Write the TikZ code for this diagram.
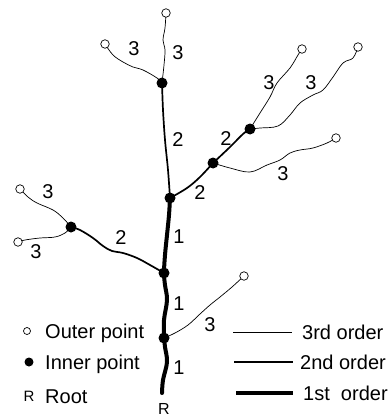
\documentclass[tikz,border=0pt]{standalone}
\usepackage{fontspec}
\setmainfont{Liberation Sans}
\begin{document}
\begin{tikzpicture}[x=1pt,y=-1pt,
  innerpt/.style={circle,fill=black,inner sep=0pt,minimum size=11pt},
  outerpt/.style={circle,draw=black,fill=white,line width=0.7pt,inner sep=0pt,minimum size=8.5pt},
  ordthree/.style={line width=0.7pt,line cap=round,line join=round},
  ordtwo/.style={line width=1.7pt,line cap=round,line join=round},
  ordone/.style={line width=4pt,line cap=round,line join=round},
  lab/.style={font=\fontsize{20}{24}\selectfont,inner sep=0pt},
  leg/.style={font=\fontsize{20}{24}\selectfont,inner sep=0pt,anchor=base west},
]
\useasboundingbox (0,0) rectangle (391,417);
% positions
\coordinate (R0) at (162,393);
\coordinate (A) at (164,338);
\coordinate (B) at (164,273);
\coordinate (C) at (170,198);
\coordinate (D) at (71,227);
\coordinate (E) at (162,83);
\coordinate (F) at (213,163);
\coordinate (G) at (250,129);
\coordinate (oT) at (166,13);
\coordinate (oL) at (105,44);
\coordinate (oG1) at (302,49);
\coordinate (oG2) at (358,47);
\coordinate (oF) at (336,138);
\coordinate (oD1) at (20,189);
\coordinate (oD2) at (18,242);
\coordinate (oA) at (244,276);
% first order
\draw[ordone] plot[smooth,tension=0.6] coordinates {(R0) (163,380) (167,362) (165,347) (A) (164,320) (167,300) (165,285) (B) (165,255) (167,235) (169,215) (C)};
% second order
\draw[ordtwo] plot[smooth,tension=0.6] coordinates {(C) (168,170) (165,140) (163,110) (E)};
\draw[ordtwo] plot[smooth,tension=0.6] coordinates {(C) (187,188) (200,177) (F)};
\draw[ordtwo] plot[smooth,tension=0.6] coordinates {(F) (230,147) (243,134) (G)};
\draw[ordtwo] plot[smooth,tension=0.6] coordinates {(B) (150,265) (137,258) (123,253) (112,251) (103,246) (93,238) (80,230) (D)};
% third order
\draw[ordthree] plot[smooth,tension=0.6] coordinates {(E) (164,65) (165,50) (163,40) (165,28) (oT)};
\draw[ordthree] plot[smooth,tension=0.6] coordinates {(E) (157,78) (143,70) (133,67) (123,62) (113,55) (oL)};
\draw[ordthree] plot[smooth,tension=0.6] coordinates {(G) (260,113) (270,97) (277,83) (290,68) (298,55) (oG1)};
\draw[ordthree] plot[smooth,tension=0.6] coordinates {(G) (260,128) (278,126) (290,115) (300,103) (313,95) (323,90) (333,77) (343,63) (353,58) (oG2)};
\draw[ordthree] plot[smooth,tension=0.6] coordinates {(F) (230,168) (250,172) (267,165) (280,160) (290,153) (300,150) (313,148) (327,143) (oF)};
\draw[ordthree] plot[smooth,tension=0.6] coordinates {(D) (63,218) (53,210) (37,203) (28,197) (oD1)};
\draw[ordthree] plot[smooth,tension=0.6] coordinates {(D) (65,233) (55,237) (40,238) (25,240) (oD2)};
\draw[ordthree] plot[smooth,tension=0.6] coordinates {(A) (175,333) (188,325) (200,314) (210,305) (220,297) (232,287) (oA)};
% points
\foreach \p in {A,B,C,D,E,F,G} \node[innerpt] (n\p) at (\p) {};
\foreach \p in {oT,oL,oG1,oG2,oF,oD1,oD2,oA} \node[outerpt] (n\p) at (\p) {};
% labels
\node[lab] (l1) at (134,49) {3};
\node[lab] (l2) at (178,53) {3};
\node[lab] (l3) at (178,140) {2};
\node[lab] (l4) at (269,83) {3};
\node[lab] (l5) at (311,83) {3};
\node[lab] (l6) at (226,139) {2};
\node[lab] (l7) at (200,193) {2};
\node[lab] (l8) at (283,174) {3};
\node[lab] (l9) at (48,192) {3};
\node[lab] (l10) at (36,252) {3};
\node[lab] (l11) at (121,238) {2};
\node[lab] (l12) at (179,237) {1};
\node[lab] (l13) at (179,304) {1};
\node[lab] (l14) at (179,368) {1};
\node[lab] (l15) at (210,325) {3};
\node[lab,font=\fontsize{16}{19}\selectfont] (lR) at (164,408.5) {R};
% legend left
\node[outerpt,minimum size=7pt] (kO) at (27,331) {};
\node[innerpt,minimum size=9pt] (kI) at (29,362) {};
\node[lab,font=\fontsize{15}{18}\selectfont] (kR) at (29,396) {R};
\node[leg] (tO) at (45,338) {Outer point};
\node[leg] (tI) at (45,369) {Inner point};
\node[leg] (tR) at (45,403) {Root};
% legend right
\coordinate (a3) at (233,332); \coordinate (b3) at (292,332);
\coordinate (a2) at (234,362); \coordinate (b2) at (293,362);
\coordinate (a1) at (236,393); \coordinate (b1) at (293,393);
\draw[ordthree,line cap=butt] (a3) -- (b3);
\draw[ordtwo,line cap=butt] (a2) -- (b2);
\draw[ordone,line cap=butt] (a1) -- (b1);
\node[leg] (t3) at (302,339) {3rd order};
\node[leg] (t2) at (300,369) {2nd order};
\node[leg] (t1) at (303,400) {1st\ \ order};
\end{tikzpicture}
\end{document}
